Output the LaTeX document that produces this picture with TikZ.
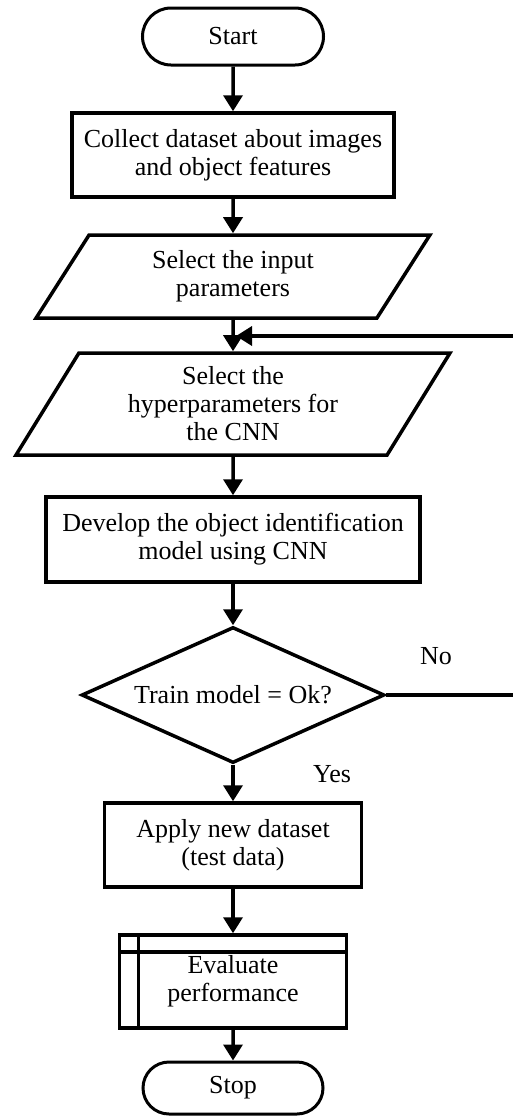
\documentclass[tikz,border=0pt]{standalone}
\usepackage{fontspec}
\setmainfont{Liberation Serif}
\usetikzlibrary{shapes.geometric,shapes.misc,arrows.meta}

\begin{document}
\begin{tikzpicture}[x=1pt, y=-1pt,
  every node/.style={font=\fontsize{26}{28}\selectfont, align=center},
  term/.style={draw, rounded rectangle, line width=3pt, inner sep=0pt},
  proc/.style={draw, rectangle, line width=3.5pt, inner sep=0pt},
  io/.style={draw, trapezium, trapezium left angle=60, trapezium right angle=120,
    trapezium stretches=true, line width=3.5pt, inner sep=0pt},
  dec/.style={draw, diamond, aspect=2.23, line width=3.5pt, inner sep=0pt,
    minimum width=303pt, minimum height=136pt},
  subproc/.style={proc, path picture={
    \draw[line width=3.5pt] ([yshift=-17pt]path picture bounding box.north west)
      -- ([yshift=-17pt]path picture bounding box.north east);
    \draw[line width=3.5pt] ([xshift=19pt]path picture bounding box.north west)
      -- ([xshift=19pt]path picture bounding box.south west);}},
  arr/.style={line width=3.5pt, -{Triangle[length=16pt,width=19pt]}},
  lbl/.style={inner sep=0pt}]
  \useasboundingbox (0,0) rectangle (512,1117);

  % Terminals
  \node[term, minimum width=181pt, minimum height=57pt] (start) at (233,36.5) {Start};
  \node[term, minimum width=180pt, minimum height=52pt] (stop) at (233,1088) {Stop};

  % Steps
  \node[proc, minimum width=322pt, minimum height=84pt] (collect) at (233,155)
    {Collect dataset about images\\and object features};
  \node[io, minimum width=394pt, minimum height=83pt] (inputs) at (233,276.5)
    {Select the input\\parameters};
  \node[io, minimum width=435pt, minimum height=102pt] (hyper) at (233,404)
    {Select the\\hyperparameters for\\the CNN};
  \node[proc, minimum width=374pt, minimum height=85pt] (develop) at (233,539.5)
    {Develop the object identification\\model using CNN};
  \node[dec] (check) at (233,695) {Train model = Ok?};
  \node[proc, minimum width=257pt, minimum height=84pt] (apply) at (233,845)
    {Apply new dataset\\(test data)};
  \node[subproc, minimum width=227pt, minimum height=93pt] (eval) at (233,981.5)
    {Evaluate\\performance};

  % Branch labels
  \node[lbl] (no) at (436,656) {No};
  \node[lbl] (yes) at (332,774) {Yes};

  % Loop back points
  \coordinate (loop) at (522,336);
  \coordinate (join) at (236,336);

  % Arrows
  \draw[arr] (start) -- (collect);
  \draw[arr] (collect) -- (inputs);
  \draw[arr] (inputs) -- (hyper);
  \draw[arr] (hyper) -- (develop);
  \draw[arr] (develop) -- (check);
  \draw[arr] (check) -- (apply);
  \draw[arr] (apply) -- (eval);
  \draw[arr] (eval) -- (stop);
  \draw[arr] (check.east) -| (loop) -- (join);
\end{tikzpicture}
\end{document}
